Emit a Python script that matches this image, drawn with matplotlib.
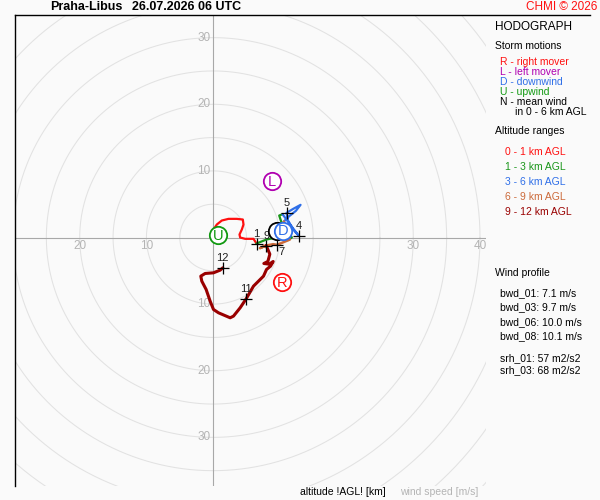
import matplotlib
matplotlib.use("Agg")
import numpy as np
import matplotlib.pyplot as plt
from matplotlib.lines import Line2D

plt.rcParams["font.family"] = ["Liberation Sans", "DejaVu Sans"]

# --- hodograph trace, one list per altitude range (u, v in m/s) ---
seg_01_u = [0.05, 0.55, 1.3, 2.3, 3.55, 4.45, 4.55, 4.3, 3.95, 4.05, 4.8, 6.05, 6.5]
seg_01_v = [1.2, 1.95, 2.55, 2.8, 2.8, 2.7, 1.95, 1.2, 0.45, 0.0, -0.2, -0.2, -0.9]
seg_13_u = [6.5, 8.0, 9.5, 11.2, 11.8, 11.0, 10.2, 9.9, 10.4]
seg_13_v = [-0.9, -0.3, 0.0, -0.4, 0.0, 1.2, 2.4, 3.3, 3.5]
seg_36_u = [10.4, 11.5, 12.8, 12.0, 11.2, 11.0, 12.0, 13.1, 12.4, 11.4, 10.6]
seg_36_v = [3.5, 2.0, 0.3, 1.2, 2.6, 3.7, 4.3, 4.9, 4.0, 3.2, 2.4]
seg_69_u = [10.6, 10.8, 11.5, 9.6, 9.0, 7.9, 7.0, 7.95]
seg_69_v = [2.4, 0.5, -0.3, -1.1, -1.0, -1.2, -1.6, -1.2]
seg_912_u = [7.95, 8.5, 8.2, 7.6, 8.4, 9.0, 8.6, 8.0, 7.55, 6.05, 4.95, 4.05, 3.05,
             2.55, 0.8, 0.05, -0.45, -1.05, -1.7, -1.85, -1.2, 0.05, 1.05, 1.45]
seg_912_v = [-1.2, -2.5, -3.6, -3.9, -4.0, -3.6, -4.3, -4.8, -5.8, -7.3, -9.2, -10.55, -11.8,
             -12.05, -11.3, -10.8, -9.55, -7.8, -6.55, -5.8, -5.4, -5.3, -4.9, -4.55]

seg_labels = ["0 - 1 km AGL", "1 - 3 km AGL", "3 - 6 km AGL", "6 - 9 km AGL", "9 - 12 km AGL"]
seg_colors = ["#ff1010", "#1a961a", "#2f6fe8", "#cc6a3a", "#990000"]

# km marks along the trace
km_levels = ["1", "9", "7", "4", "5", "11", "12"]
km_u = [6.5, 7.95, 9.6, 12.8, 11.0, 4.95, 1.45]
km_v = [-0.9, -1.2, -1.1, 0.3, 3.7, -9.2, -4.55]

# storm motions
storm_keys = ["N", "U", "L", "R", "D"]
storm_u = [9.5, 0.8, 8.8, 10.3, 10.45]
storm_v = [0.95, 0.4, 8.45, -6.7, 1.05]
storm_colors = ["#000000", "#119911", "#b000b0", "#ff1010", "#2f6fe8"]

legend_storm = ["R - right mover", "L - left mover", "D - downwind", "U - upwind", "N - mean wind"]
legend_storm_colors = ["#ff1010", "#b000b0", "#2f6fe8", "#119911", "#000000"]

wind_profile = ["bwd_01: 7.1 m/s", "bwd_03: 9.7 m/s", "bwd_06: 10.0 m/s", "bwd_08: 10.1 m/s",
                "srh_01: 57 m2/s2", "srh_03: 68 m2/s2"]

ring_radii = list(range(5, 65, 5))
W, H = 600, 500
BG = "#fafafa"


def fx(px):
    return px / W


def fy(py):
    return 1 - py / H


fig = plt.figure(figsize=(6, 5), dpi=100, facecolor=BG)
ax = fig.add_axes([fx(15), fy(486), 471 / W, 471 / H])
ax.set_facecolor(BG)
ax.set_xlim(-29.7, 40.9)
ax.set_ylim(-37.3, 33.4)
ax.set_xticks([])
ax.set_yticks([])
for side in ["top", "right", "bottom"]:
    ax.spines[side].set_visible(False)
ax.spines["left"].set_color("black")
ax.spines["left"].set_linewidth(1.0)

# rings
t = np.linspace(0, 2 * np.pi, 400)
for r in ring_radii:
    ax.plot(r * np.cos(t), r * np.sin(t), color="#e2e2e2", lw=0.75, zorder=1)
ax.axhline(0, color="#a8a8a8", lw=0.8, zorder=1.5)
ax.axvline(0, color="#a8a8a8", lw=0.8, zorder=1.5)

tick_kw = dict(color="#b4b4b4", fontsize=8.5, zorder=1.6)
for r in [10, 20, 30]:
    ax.annotate(str(r), (0, r), xytext=(-2, 0), textcoords="offset points", ha="right", va="center", **tick_kw)
    ax.annotate(str(r), (0, -r), xytext=(-2, 0), textcoords="offset points", ha="right", va="center", **tick_kw)
for r in [-20, -10, 30, 40]:
    ax.annotate(str(abs(r)), (r, 0), xytext=(0, -2), textcoords="offset points", ha="center", va="top", **tick_kw)

# trace
segs = [(seg_01_u, seg_01_v), (seg_13_u, seg_13_v), (seg_36_u, seg_36_v),
        (seg_69_u, seg_69_v), (seg_912_u, seg_912_v)]
widths = [1.6, 1.6, 1.6, 1.8, 2.2]
for (u, v), c, lw in zip(segs, seg_colors, widths):
    ax.plot(u, v, color=c, lw=lw, solid_capstyle="round", solid_joinstyle="round", zorder=3)

# km marks (label "7" sits below its cross, under the D circle)
ax.plot(km_u, km_v, linestyle="none", marker="+", markersize=9, mew=0.9, color="black", zorder=4)
for lab, u, v in zip(km_levels, km_u, km_v):
    off = (3, -5) if lab == "7" else (0, 7)
    ax.annotate(lab, (u, v), xytext=off, textcoords="offset points", ha="center", va="center",
                fontsize=8, color="#202020", zorder=4)

# storm motions
for k, u, v, c in zip(storm_keys, storm_u, storm_v, storm_colors):
    ax.plot([u], [v], marker="o", markersize=12.5, mfc="white", mec=c, mew=1.3, zorder=5)
    if k != "N":
        ax.text(u, v - 0.1, k, color=c, fontsize=10.5, ha="center", va="center", zorder=6)

# frame top line
fig.add_artist(Line2D([fx(15), fx(590)], [fy(15), fy(15)], color="black", lw=1.0))

# header
fig.text(fx(50), fy(7), "Praha-Libus", fontsize=9, fontweight="bold", ha="left", va="center")
fig.text(fx(132), fy(7), "26.07.2026 06 UTC", fontsize=9, fontweight="bold", ha="left", va="center")
fig.text(fx(597), fy(7), "CHMI \u00a9 2026", fontsize=8.5, color="#ff1010", ha="right", va="center")

# side panel
fig.text(fx(495), fy(27), "HODOGRAPH", fontsize=8.5, ha="left", va="center")
fig.text(fx(495), fy(46), "Storm motions", fontsize=7.5, ha="left", va="center")
for i, (s, c) in enumerate(zip(legend_storm, legend_storm_colors)):
    fig.text(fx(500), fy(62 + 10 * i), s, fontsize=7.5, color=c, ha="left", va="center")
fig.text(fx(515), fy(112), "in 0 - 6 km AGL", fontsize=7.5, ha="left", va="center")
fig.text(fx(495), fy(131), "Altitude ranges", fontsize=7.5, ha="left", va="center")
for i, (s, c) in enumerate(zip(seg_labels, seg_colors)):
    fig.text(fx(505), fy(152 + 15 * i), s, fontsize=7.5, color=c, ha="left", va="center")

fig.text(fx(495), fy(273), "Wind profile", fontsize=7.5, ha="left", va="center")
wp_y = [293, 307, 322, 336, 358, 370]
for s, y in zip(wind_profile, wp_y):
    fig.text(fx(500), fy(y), s, fontsize=7.5, ha="left", va="center")

# bottom captions
fig.text(fx(300), fy(492), "altitude !AGL! [km]", fontsize=7.5, ha="left", va="center")
fig.text(fx(400), fy(492), "wind speed [m/s]", fontsize=7.5, color="#b4b4b4", ha="left", va="center")

fig.savefig("out.png", dpi=100, facecolor=BG)
